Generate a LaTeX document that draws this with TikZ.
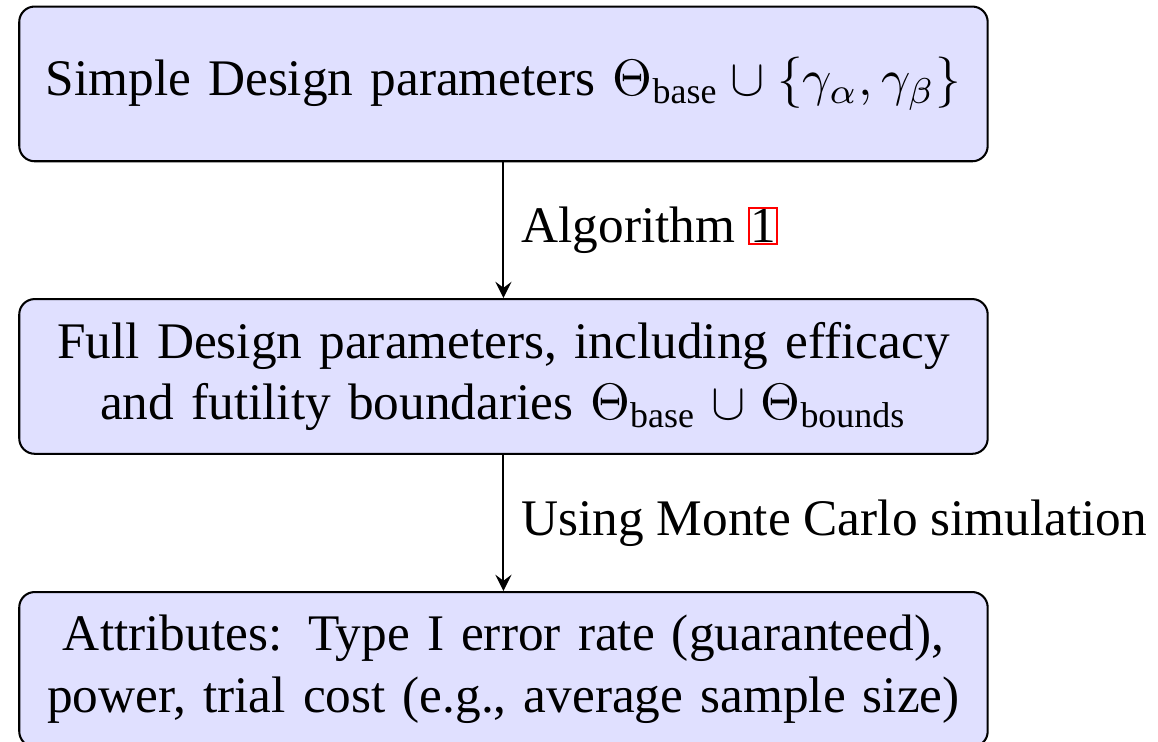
\documentclass[tikz,border=0pt]{standalone}
\usepackage{amsmath}
\usepackage{fontspec}
\setmainfont{LiberationSerif}[Extension=.ttf, UprightFont=*-Regular, BoldFont=*-Bold, ItalicFont=*-Italic]
\newcommand{\reflink}[1]{{\setlength{\fboxsep}{0pt}\setlength{\fboxrule}{0.4pt}\color{red}\fbox{\color{black}#1}}}
\tikzset{stagebox/.style={draw, fill=blue!12, rounded corners=3pt, minimum width=6.59cm, minimum height=1.06cm, text width=6.4cm, align=center}}
\begin{document}
\begin{tikzpicture}[>=stealth]
\useasboundingbox (0,0) rectangle (7.933,5.083);
\node[stagebox] (simple) at (3.449,4.508) {Simple Design parameters $\Theta_{\text{base}}\cup\{\gamma_\alpha,\gamma_\beta\}$};
\node[stagebox] (full) at (3.449,2.504) {Full Design parameters, including efficacy\\ and futility boundaries $\Theta_{\text{base}}\cup\Theta_{\text{bounds}}$};
\node[stagebox] (attrs) at (3.449,0.497) {Attributes: Type I error rate (guaranteed),\\ power, trial cost (e.g., average sample size)};
\draw[->] (simple) -- (full) node[midway,right] {Algorithm \reflink{1}};
\draw[->] (full) -- (attrs) node[midway,right] {Using Monte Carlo simulation};
\end{tikzpicture}
\end{document}
